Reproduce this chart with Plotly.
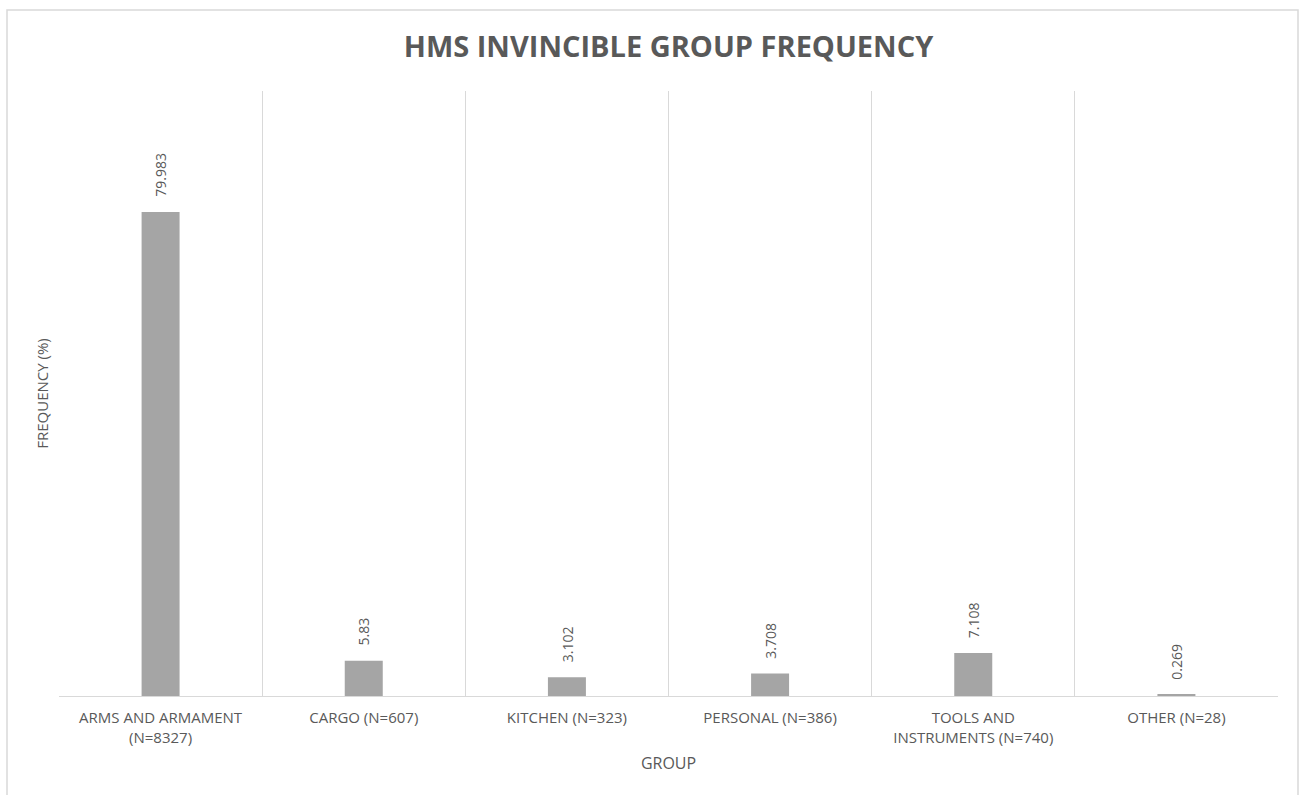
import plotly.graph_objects as go

# Artefact groups recovered from HMS Invincible, share of all finds (%)
groups = [
    "ARMS AND ARMAMENT<br>(N=8327)",
    "CARGO (N=607)",
    "KITCHEN (N=323)",
    "PERSONAL (N=386)",
    "TOOLS AND<br>INSTRUMENTS (N=740)",
    "OTHER (N=28)",
]
frequency = [79.983, 5.83, 3.102, 3.708, 7.108, 0.269]
value_labels = ["79.983", "5.83", "3.102", "3.708", "7.108", "0.269"]

TEXT = "#595959"
GRID = "#D9D9D9"
BAR = "#A5A5A5"

fig = go.Figure(
    go.Bar(
        x=groups,
        y=frequency,
        marker=dict(color=BAR, line=dict(width=0)),
        width=0.187,
        hoverinfo="x+y",
    )
)

# value labels, rotated and set a little above each bar
for g, v, lab in zip(groups, frequency, value_labels):
    fig.add_annotation(
        x=g,
        y=v,
        text=lab,
        showarrow=False,
        textangle=-90,
        xanchor="center",
        yanchor="bottom",
        yshift=13,
        font=dict(family="Open Sans", size=14, color=TEXT),
    )

fig.update_layout(
    width=1303,
    height=795,
    margin=dict(l=59, r=25, t=91, b=99),
    paper_bgcolor="white",
    plot_bgcolor="white",
    showlegend=False,
    title=dict(
        text="<b>HMS INVINCIBLE GROUP FREQUENCY</b>",
        x=0.5,
        xref="paper",
        xanchor="center",
        y=1 - 47 / 795,
        yanchor="middle",
        font=dict(family="Open Sans", size=29, color=TEXT),
    ),
    xaxis=dict(
        type="category",
        tickson="boundaries",
        showgrid=True,
        gridcolor=GRID,
        gridwidth=1,
        showline=True,
        linecolor=GRID,
        linewidth=1,
        ticks="",
        ticklabelstandoff=8,
        tickfont=dict(family="Open Sans", size=15, color=TEXT),
        title=dict(
            text="GROUP",
            font=dict(family="Open Sans", size=16, color=TEXT),
            standoff=12,
        ),
        automargin=False,
    ),
    yaxis=dict(
        range=[0, 100],
        showgrid=False,
        zeroline=False,
        showticklabels=False,
        ticks="",
        title=dict(
            text="FREQUENCY (%)",
            font=dict(family="Open Sans", size=15, color=TEXT),
            standoff=5,
        ),
        automargin=False,
    ),
    shapes=[
        dict(
            type="rect",
            xref="paper",
            yref="paper",
            x0=(7 - 59) / 1219,
            x1=(1298 - 59) / 1219,
            y0=(696 - 800) / 605,
            y1=(696 - 10) / 605,
            line=dict(color=GRID, width=1.5),
            fillcolor="rgba(0,0,0,0)",
            layer="below",
        )
    ],
)

fig.write_html("out.html")
